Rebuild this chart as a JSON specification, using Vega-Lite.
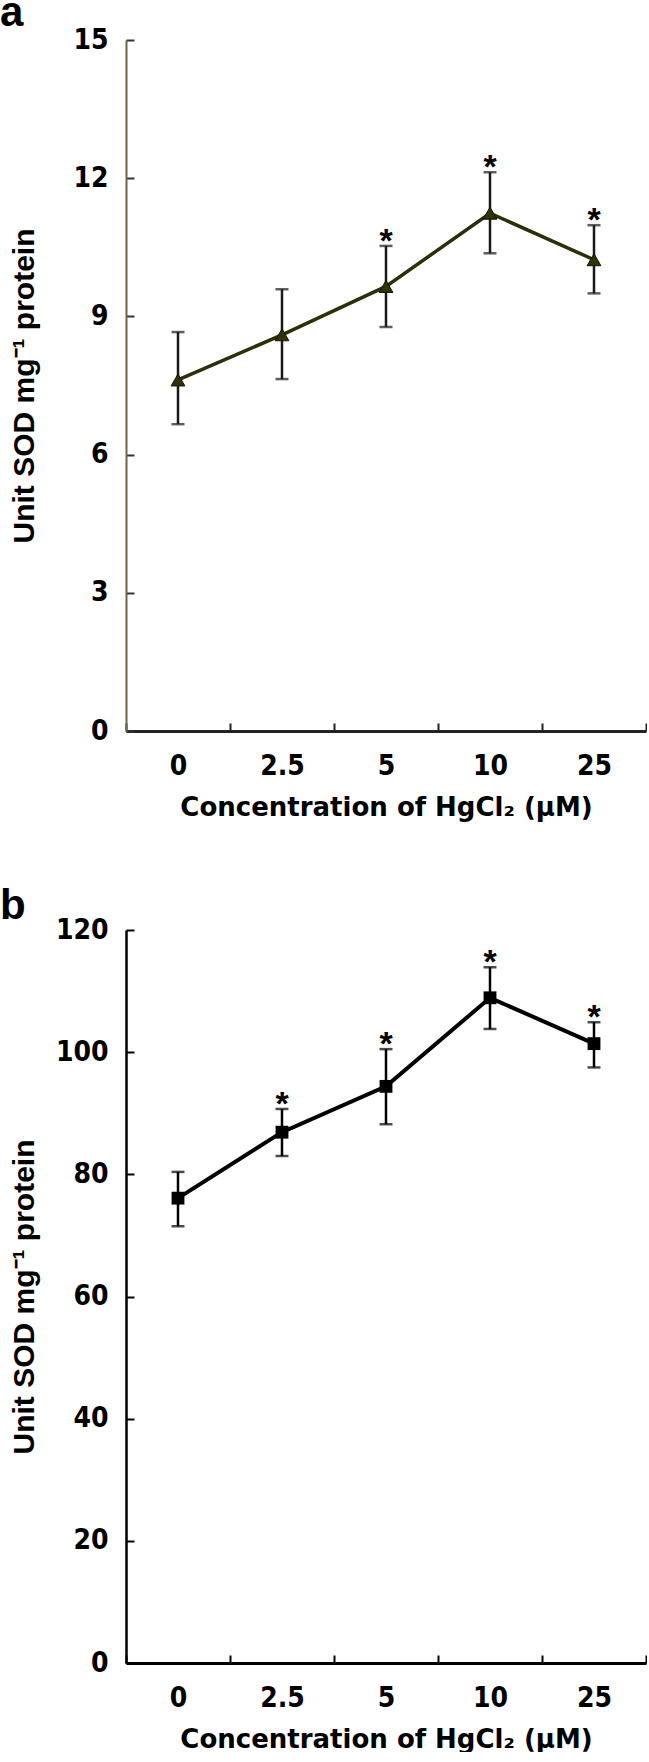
{
  "$schema": "https://vega.github.io/schema/vega-lite/v6.json",
  "padding": {"left": 0, "top": -8, "right": 0, "bottom": 0},
  "background": "white",
  "spacing": 65,
  "config": {
    "view": {"stroke": null},
    "axis": {"grid": false, "labelFont": "Liberation Sans Narrow, DejaVu Sans Condensed, sans-serif", "labelFontSize": 28, "labelFontWeight": "bold", "labelColor": "black", "titleColor": "black"}
  },
  "vconcat": [
    {
      "title": {"text": "a", "anchor": "start", "frame": "bounds", "font": "Liberation Sans", "fontSize": 42, "fontWeight": "bold", "baseline": "alphabetic", "offset": -42, "dx": -9, "color": "black"},
      "width": 520,
      "height": 691,
      "data": {"values": [
        {"conc": "0", "mean": 7.62, "lo": 6.66, "hi": 8.66, "star": false},
        {"conc": "2.5", "mean": 8.6, "lo": 7.64, "hi": 9.59, "star": false},
        {"conc": "5", "mean": 9.65, "lo": 8.77, "hi": 10.53, "star": true},
        {"conc": "10", "mean": 11.24, "lo": 10.37, "hi": 12.13, "star": true},
        {"conc": "25", "mean": 10.23, "lo": 9.5, "hi": 10.98, "star": true}
      ]},
      "encoding": {
        "x": {"field": "conc", "type": "ordinal", "sort": ["0", "2.5", "5", "10", "25"],
          "scale": {"type": "band", "paddingInner": 0, "paddingOuter": 0},
          "axis": {"title": "Concentration of HgCl₂ (μM)", "titleFont": "DejaVu Sans", "titleFontSize": 26, "titleFontWeight": "bold", "titlePadding": 14,
            "labelAngle": 0, "tickBand": "extent", "tickSize": -8, "tickWidth": 2, "tickColor": "#222", "domainColor": "#222", "domainWidth": 3, "labelPadding": 29}}
      },
      "layer": [
        {"mark": {"type": "rule", "color": "#1a1a1a", "strokeWidth": 2.5},
         "encoding": {"y": {"field": "lo", "type": "quantitative"}, "y2": {"field": "hi"}}},
        {"mark": {"type": "tick", "color": "#1a1a1a", "size": 13, "thickness": 2.5, "orient": "horizontal"},
         "encoding": {"y": {"field": "lo", "type": "quantitative"}}},
        {"mark": {"type": "tick", "color": "#1a1a1a", "size": 13, "thickness": 2.5, "orient": "horizontal"},
         "encoding": {"y": {"field": "hi", "type": "quantitative"}}},
        {"mark": {"type": "line", "color": "#2e2e0a", "strokeWidth": 3.5},
         "encoding": {"y": {"field": "mean", "type": "quantitative",
            "scale": {"domain": [0, 15], "nice": false},
            "axis": {"values": [0, 3, 6, 9, 12, 15], "title": "Unit SOD mg⁻¹ protein", "titleFont": "Liberation Sans", "titleFontSize": 30, "titleFontWeight": "bold",
              "titleX": -93, "titleBaseline": "alphabetic", "tickSize": -8, "tickWidth": 2, "tickColor": "#333", "domainColor": "#6b6840", "domainWidth": 2, "labelPadding": 26}}}},
        {"mark": {"type": "point", "shape": "triangle-up", "filled": true, "color": "#333300", "stroke": "#111", "strokeWidth": 1, "size": 190, "opacity": 1},
         "encoding": {"y": {"field": "mean", "type": "quantitative"}}},
        {"transform": [{"filter": "datum.star"}],
         "mark": {"type": "text", "text": "*", "font": "Liberation Sans", "fontSize": 34, "fontWeight": "bold", "baseline": "alphabetic", "dy": 6, "color": "black"},
         "encoding": {"y": {"field": "hi", "type": "quantitative"}}}
      ]
    },
    {
      "title": {"text": "b", "anchor": "start", "frame": "bounds", "font": "Liberation Sans", "fontSize": 42, "fontWeight": "bold", "baseline": "alphabetic", "offset": -45, "dx": -9, "color": "black"},
      "width": 520,
      "height": 733,
      "data": {"values": [
        {"conc": "0", "mean": 76.1, "lo": 71.5, "hi": 80.4, "star": false},
        {"conc": "2.5", "mean": 86.9, "lo": 83.0, "hi": 90.7, "star": true},
        {"conc": "5", "mean": 94.4, "lo": 88.2, "hi": 100.5, "star": true},
        {"conc": "10", "mean": 108.9, "lo": 103.8, "hi": 113.9, "star": true},
        {"conc": "25", "mean": 101.4, "lo": 97.5, "hi": 104.9, "star": true}
      ]},
      "encoding": {
        "x": {"field": "conc", "type": "ordinal", "sort": ["0", "2.5", "5", "10", "25"],
          "scale": {"type": "band", "paddingInner": 0, "paddingOuter": 0},
          "axis": {"title": "Concentration of HgCl₂ (μM)", "titleFont": "DejaVu Sans", "titleFontSize": 26, "titleFontWeight": "bold", "titlePadding": 14,
            "labelAngle": 0, "tickBand": "extent", "tickSize": -8, "tickWidth": 2, "tickColor": "black", "domainColor": "black", "domainWidth": 3, "labelPadding": 29}}
      },
      "layer": [
        {"mark": {"type": "rule", "color": "black", "strokeWidth": 2.5},
         "encoding": {"y": {"field": "lo", "type": "quantitative"}, "y2": {"field": "hi"}}},
        {"mark": {"type": "tick", "color": "black", "size": 13, "thickness": 2.5, "orient": "horizontal"},
         "encoding": {"y": {"field": "lo", "type": "quantitative"}}},
        {"mark": {"type": "tick", "color": "black", "size": 13, "thickness": 2.5, "orient": "horizontal"},
         "encoding": {"y": {"field": "hi", "type": "quantitative"}}},
        {"mark": {"type": "line", "color": "black", "strokeWidth": 4},
         "encoding": {"y": {"field": "mean", "type": "quantitative",
            "scale": {"domain": [0, 120], "nice": false},
            "axis": {"values": [0, 20, 40, 60, 80, 100, 120], "title": "Unit SOD mg⁻¹ protein", "titleFont": "Liberation Sans", "titleFontSize": 30, "titleFontWeight": "bold",
              "titleX": -93, "titleBaseline": "alphabetic", "tickSize": -8, "tickWidth": 2, "tickColor": "black", "domainColor": "black", "domainWidth": 2.5, "labelPadding": 26}}}},
        {"mark": {"type": "point", "shape": "square", "filled": true, "color": "black", "size": 165, "opacity": 1},
         "encoding": {"y": {"field": "mean", "type": "quantitative"}}},
        {"transform": [{"filter": "datum.star"}],
         "mark": {"type": "text", "text": "*", "font": "Liberation Sans", "fontSize": 34, "fontWeight": "bold", "baseline": "alphabetic", "dy": 6, "color": "black"},
         "encoding": {"y": {"field": "hi", "type": "quantitative"}}}
      ]
    }
  ]
}
